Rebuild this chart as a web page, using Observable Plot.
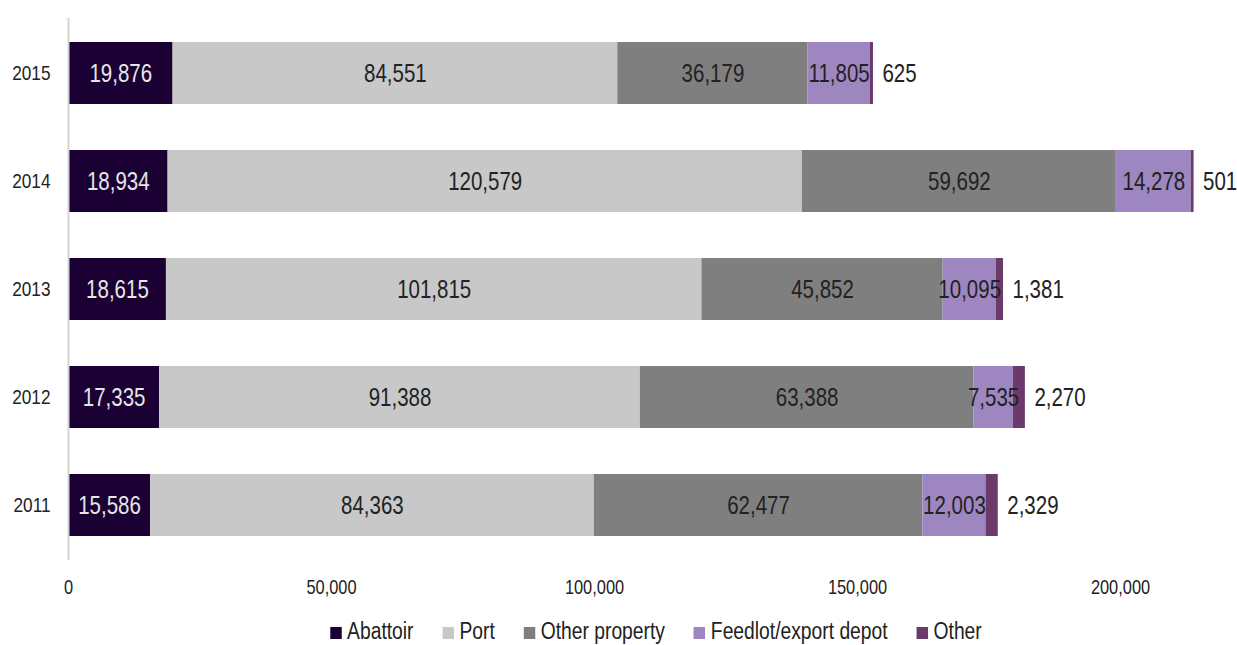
<!DOCTYPE html>
<html>
<head>
<meta charset="utf-8">
<script src="https://cdn.jsdelivr.net/npm/d3@7"></script>
<script src="https://cdn.jsdelivr.net/npm/@observablehq/plot@0.6"></script>
<style>
  body { margin: 0; background: #fff; font-family: "Liberation Sans", Arial, sans-serif; overflow: hidden; }
  #legend { display: flex; justify-content: center; gap: 35px; padding-left: 91px; margin-top: 3px; font-size: 23.5px; color: #222; line-height: 26px; transform: scaleX(0.82); transform-origin: 618.5px 50%; white-space: nowrap; }
  #legend span.sw { display: inline-block; width: 14px; height: 12px; margin-right: 7px; vertical-align: 0px; }
</style>
</head>
<body>
<div id="chart"></div>
<div id="legend"></div>
<script>
const years = ["2015", "2014", "2013", "2012", "2011"];
const types = ["Abattoir", "Port", "Other property", "Feedlot/export depot", "Other"];
const abattoir = [19876, 18934, 18615, 17335, 15586];
const port = [84551, 120579, 101815, 91388, 84363];
const otherProperty = [36179, 59692, 45852, 63388, 62477];
const feedlot = [11805, 14278, 10095, 7535, 12003];
const other = [625, 501, 1381, 2270, 2329];
const colors = ["#1a0033", "#c8c8c8", "#7f7f7f", "#9e86c0", "#6b3a6b"];
const xTicks = [0, 50000, 100000, 150000, 200000];

const series = [abattoir, port, otherProperty, feedlot, other];
const data = [];
years.forEach((y, i) => types.forEach((t, j) => data.push({year: y, type: t, value: series[j][i]})));
const totals = years.map((y, i) => ({year: y, total: d3.sum(series, s => s[i]), other: other[i]}));
const fmt = d3.format(",");

const chart = Plot.plot({
  width: 1237,
  height: 615,
  marginTop: 18,
  marginBottom: 55,
  marginLeft: 68,
  marginRight: 117,
  style: {fontFamily: '"Liberation Sans", Arial, sans-serif', color: "#222", background: "#fff", overflow: "visible"},
  x: {domain: [0, 200000]},
  y: {domain: years, paddingInner: 0.43, paddingOuter: 0.21},
  color: {domain: types, range: colors},
  marks: [
    Plot.barX(data, Plot.stackX({x: "value", y: "year", fill: "type", order: types})),
    Plot.text(data, Plot.stackX({
      x: "value", y: "year", z: "type", order: types,
      text: d => d.type === "Other" ? "" : fmt(d.value),
      fill: d => d.type === "Abattoir" ? "#e6e6e6" : "#222",
      fontSize: 25
    })),
    Plot.text(totals, {x: "total", y: "year", text: d => fmt(d.other), textAnchor: "start", dx: 9, fontSize: 25, fill: "#222"}),
    Plot.ruleX([0], {stroke: "#d4d4d4", strokeWidth: 2}),
    Plot.axisX({ticks: xTicks, tickFormat: fmt, tickSize: 0, tickPadding: 19, fontSize: 20, label: null}),
    Plot.axisY({tickSize: 0, tickPadding: 18, fontSize: 21, label: null})
  ]
});

// condense glyphs horizontally to mimic a narrow typeface
chart.querySelectorAll("text").forEach(t => {
  const tr = t.getAttribute("transform");
  if (tr && tr.includes("translate")) t.setAttribute("transform", tr + " scale(0.82,1)");
});
document.getElementById("chart").appendChild(chart);

const legend = document.getElementById("legend");
types.forEach((t, i) => {
  const item = document.createElement("div");
  item.innerHTML = `<span class="sw" style="background:${colors[i]}"></span>${t}`;
  legend.appendChild(item);
});
</script>
</body>
</html>
